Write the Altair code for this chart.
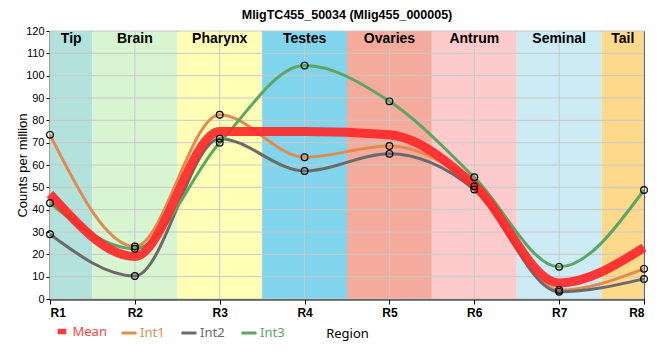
import altair as alt
import pandas as pd

chart_title = "MligTC455_50034 (Mlig455_000005)"
regions = ["R1", "R2", "R3", "R4", "R5", "R6", "R7", "R8"]
mean_vals = [47.0, 19.0, 75.0, 75.0, 73.5, 51.0, 7.2, 23.0]
int1_vals = [73.5, 23.5, 82.5, 63.5, 68.5, 50.5, 4.0, 13.5]
int2_vals = [29.0, 10.3, 71.8, 57.3, 65.0, 49.0, 3.2, 9.0]
int3_vals = [43.0, 22.5, 70.0, 104.5, 88.5, 54.5, 14.4, 48.8]
series = ["Mean", "Int1", "Int2", "Int3"]
series_colors = ["#ff2828", "#e08c50", "#6a6a6a", "#5ca664"]
tissues = ["Tip", "Brain", "Pharynx", "Testes", "Ovaries", "Antrum", "Seminal", "Tail"]
tissue_start = [0, 0.5, 1.5, 2.5, 3.5, 4.5, 5.5, 6.5]
tissue_end = [0.5, 1.5, 2.5, 3.5, 4.5, 5.5, 6.5, 7]
tissue_colors = ["#b3e2dd", "#d8f5d1", "#ffffb5", "#80d4ec", "#f5ab9b", "#fdcbcb", "#cdebf5", "#fdd98b"]
y_ticks = [0, 10, 20, 30, 40, 50, 60, 70, 80, 90, 100, 110, 120]
x_ticks = [0, 1, 2, 3, 4, 5, 6, 7]

rows = []
for name, vals in zip(series, [mean_vals, int1_vals, int2_vals, int3_vals]):
    for i, (r, v) in enumerate(zip(regions, vals)):
        rows.append({"series": name, "idx": i, "region": r, "value": v})
df = pd.DataFrame(rows)

bands = pd.DataFrame({"tissue": tissues, "x0": tissue_start, "x1": tissue_end, "color": tissue_colors})
bands["mid"] = (bands["x0"] + bands["x1"]) / 2
ygrid = pd.DataFrame({"y": y_ticks})
xgrid = pd.DataFrame({"x": x_ticks})

W, H = 594, 268

xscale = alt.Scale(domain=[0, 7], nice=False, zero=False)
yscale = alt.Scale(domain=[0, 120], nice=False)
label_expr = "'R' + (datum.value + 1)"

x_axis = alt.Axis(values=x_ticks, labelExpr=label_expr, title="Region",
                  grid=False, domainColor="black", domainWidth=2,
                  tickColor="black", tickSize=5, tickWidth=1,
                  labelFont="Liberation Sans", labelFontSize=12, labelFontWeight="bold",
                  labelColor="black", labelPadding=3, labelOverlap=False,
                  titleFont="Noto Sans", titleFontSize=13, titleFontWeight="normal",
                  titleColor="black", titlePadding=9)
y_axis = alt.Axis(values=y_ticks, title="Counts per million", grid=False,
                  domainColor="black", domainWidth=2, tickColor="black",
                  tickSize=4, labelFont="Liberation Sans", labelFontSize=11,
                  labelColor="black", labelPadding=2, labelOverlap=False,
                  titleFont="Liberation Sans", titleFontSize=13,
                  titleFontWeight="normal", titleColor="black",
                  titleX=-21, titleY=H / 2)

band_layer = alt.Chart(bands).mark_rect().encode(
    x=alt.X("x0:Q", scale=xscale, axis=x_axis),
    x2="x1:Q",
    y=alt.value(0),
    y2=alt.value(H),
    fill=alt.Fill("color:N", scale=None),
)

band_text = alt.Chart(bands).mark_text(
    font="Liberation Sans", fontSize=14, fontWeight="bold", color="black", baseline="middle"
).encode(
    x=alt.X("mid:Q", scale=xscale, axis=x_axis),
    y=alt.value(7.5),
    text="tissue:N",
)

ygrid_layer = alt.Chart(ygrid).mark_rule(color="#c8c8c8", strokeWidth=1).encode(
    y=alt.Y("y:Q", scale=yscale, axis=y_axis),
)
xgrid_layer = alt.Chart(xgrid).mark_rule(color="#c8c8c8", strokeWidth=1).encode(
    x=alt.X("x:Q", scale=xscale, axis=x_axis),
)

mean_scale = alt.Scale(domain=series[:1], range=series_colors[:1])
int_scale = alt.Scale(domain=series[1:], range=series_colors[1:])

label_color_expr = ("datum.value === 'Int1' ? '#e08c50' : "
                    "datum.value === 'Int2' ? '#6a6a6a' : '#5ca664'")
mean_legend = alt.Legend(
    title=None, orient="none", legendX=-21, legendY=293, direction="horizontal",
    symbolType="M-0.58,-0.37H0.58V0.37H-0.58Z", symbolSize=225, symbolStrokeWidth=0,
    symbolFillColor=series_colors[0], symbolOffset=25.5,
    labelColor="#ff4444", labelFont="Noto Sans", labelFontSize=13, labelOffset=3,
)
int_legend = alt.Legend(
    title=None, orient="none", legendX=70, legendY=293, direction="horizontal",
    symbolType="stroke", symbolSize=225, symbolStrokeWidth=3,
    labelColor={"expr": label_color_expr},
    labelFont="Noto Sans", labelFontSize=13, labelOffset=2, columnPadding=10,
)

int_lines = alt.Chart(df).transform_filter(alt.datum.series != "Mean").mark_line(
    interpolate="monotone", strokeWidth=3
).encode(
    x=alt.X("idx:Q", scale=xscale, axis=x_axis),
    y=alt.Y("value:Q", scale=yscale, axis=y_axis),
    color=alt.Color("series:N", scale=int_scale, legend=int_legend, sort=series[1:]),
)

mean_line = alt.Chart(df).transform_filter(alt.datum.series == "Mean").mark_line(
    interpolate="monotone", strokeWidth=9, opacity=0.92
).encode(
    x=alt.X("idx:Q", scale=xscale, axis=x_axis),
    y=alt.Y("value:Q", scale=yscale, axis=y_axis),
    color=alt.Color("series:N", scale=mean_scale, legend=mean_legend),
)

points = alt.Chart(df).transform_filter(alt.datum.series != "Mean").mark_point(
    shape="circle", filled=False, size=45, stroke="black", strokeWidth=1.2, opacity=1
).encode(
    x=alt.X("idx:Q", scale=xscale, axis=x_axis),
    y=alt.Y("value:Q", scale=yscale, axis=y_axis),
)

chart = alt.layer(
    band_layer, ygrid_layer, xgrid_layer, band_text, int_lines, mean_line, points
).resolve_scale(color="independent").properties(
    width=W, height=H,
    title=alt.TitleParams(chart_title, font="Liberation Sans", fontSize=12.5,
                          fontWeight="bold", color="black", anchor="middle", offset=4),
    autosize=alt.AutoSizeParams(type="none"),
    padding={"left": 42, "top": 23, "right": 8, "bottom": 52},
).configure_view(stroke="black", strokeWidth=1)

chart.save("out.html", embed_options={"renderer": "svg", "actions": False})
